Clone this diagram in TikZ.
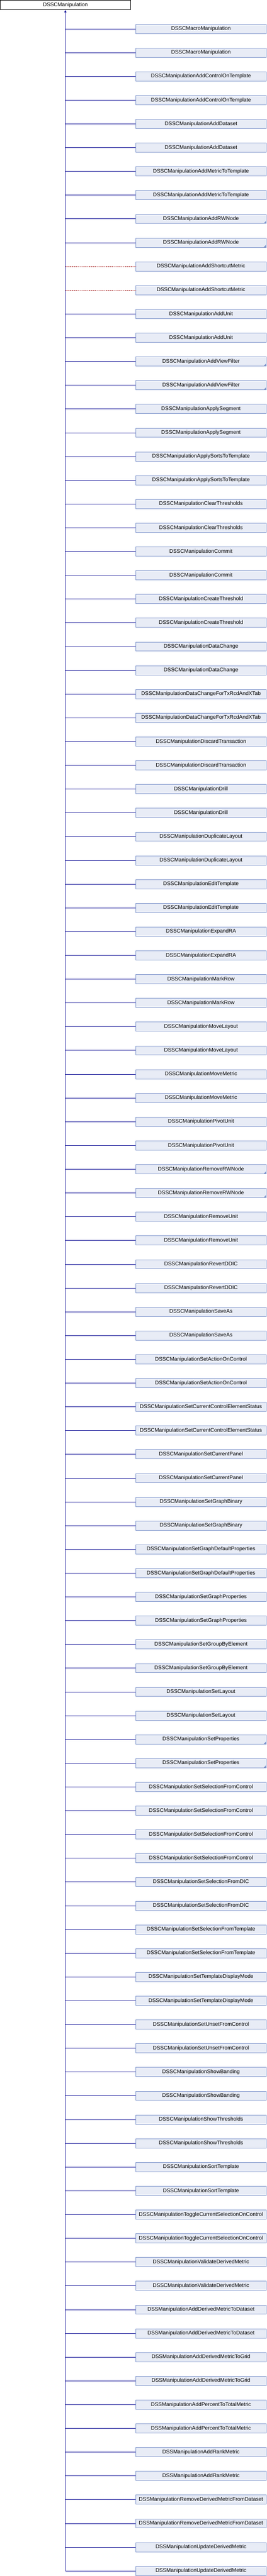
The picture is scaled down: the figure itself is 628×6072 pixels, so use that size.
\documentclass[tikz,border=0pt]{standalone}
\usepackage{fontspec}
\setmainfont{Liberation Sans}
\usetikzlibrary{arrows.meta}
\definecolor{boxfill}{RGB}{232,236,246}
\definecolor{boxline}{RGB}{128,150,204}
\definecolor{edgeblue}{RGB}{16,16,150}
\definecolor{edgered}{RGB}{160,0,0}
\begin{document}
\begin{tikzpicture}[x=1pt,y=1pt,
  every node/.style={font=\fontsize{12.5}{14}\selectfont, text=black, inner sep=0pt},
  rootbox/.style={draw=black, fill=white, line width=1pt, minimum width=307pt, minimum height=22.3pt},
  childbox/.style={draw=boxline, fill=boxfill, line width=1pt, minimum width=307pt, minimum height=21.7pt},
  leaf/.style={},
  more/.style={path picture={\fill[boxline] (path picture bounding box.south east) -- ++(-6,0) -- ++(6,6) -- cycle;}},
  pub/.style={draw=edgeblue, line width=1pt},
  prv/.style={draw=edgered, line width=1pt, dash pattern=on 3pt off 2pt}]
\useasboundingbox (0,0) rectangle (628,-6072);
\node[rootbox] (root) at (154,-11.65) {DSSCManipulation};
\foreach \nm/\ls/\ns [count=\i] in {
DSSCMacroManipulation/pub/leaf,
DSSCMacroManipulation/pub/leaf,
DSSCManipulationAddControlOnTemplate/pub/leaf,
DSSCManipulationAddControlOnTemplate/pub/leaf,
DSSCManipulationAddDataset/pub/leaf,
DSSCManipulationAddDataset/pub/leaf,
DSSCManipulationAddMetricToTemplate/pub/leaf,
DSSCManipulationAddMetricToTemplate/pub/leaf,
DSSCManipulationAddRWNode/pub/more,
DSSCManipulationAddRWNode/pub/more,
DSSCManipulationAddShortcutMetric/prv/leaf,
DSSCManipulationAddShortcutMetric/prv/leaf,
DSSCManipulationAddUnit/pub/leaf,
DSSCManipulationAddUnit/pub/leaf,
DSSCManipulationAddViewFilter/pub/more,
DSSCManipulationAddViewFilter/pub/more,
DSSCManipulationApplySegment/pub/leaf,
DSSCManipulationApplySegment/pub/leaf,
DSSCManipulationApplySortsToTemplate/pub/leaf,
DSSCManipulationApplySortsToTemplate/pub/leaf,
DSSCManipulationClearThresholds/pub/leaf,
DSSCManipulationClearThresholds/pub/leaf,
DSSCManipulationCommit/pub/leaf,
DSSCManipulationCommit/pub/leaf,
DSSCManipulationCreateThreshold/pub/leaf,
DSSCManipulationCreateThreshold/pub/leaf,
DSSCManipulationDataChange/pub/leaf,
DSSCManipulationDataChange/pub/leaf,
DSSCManipulationDataChangeForTxRcdAndXTab/pub/leaf,
DSSCManipulationDataChangeForTxRcdAndXTab/pub/leaf,
DSSCManipulationDiscardTransaction/pub/leaf,
DSSCManipulationDiscardTransaction/pub/leaf,
DSSCManipulationDrill/pub/leaf,
DSSCManipulationDrill/pub/leaf,
DSSCManipulationDuplicateLayout/pub/leaf,
DSSCManipulationDuplicateLayout/pub/leaf,
DSSCManipulationEditTemplate/pub/leaf,
DSSCManipulationEditTemplate/pub/leaf,
DSSCManipulationExpandRA/pub/leaf,
DSSCManipulationExpandRA/pub/leaf,
DSSCManipulationMarkRow/pub/leaf,
DSSCManipulationMarkRow/pub/leaf,
DSSCManipulationMoveLayout/pub/leaf,
DSSCManipulationMoveLayout/pub/leaf,
DSSCManipulationMoveMetric/pub/leaf,
DSSCManipulationMoveMetric/pub/leaf,
DSSCManipulationPivotUnit/pub/leaf,
DSSCManipulationPivotUnit/pub/leaf,
DSSCManipulationRemoveRWNode/pub/more,
DSSCManipulationRemoveRWNode/pub/more,
DSSCManipulationRemoveUnit/pub/leaf,
DSSCManipulationRemoveUnit/pub/leaf,
DSSCManipulationRevertDDIC/pub/leaf,
DSSCManipulationRevertDDIC/pub/leaf,
DSSCManipulationSaveAs/pub/leaf,
DSSCManipulationSaveAs/pub/leaf,
DSSCManipulationSetActionOnControl/pub/leaf,
DSSCManipulationSetActionOnControl/pub/leaf,
DSSCManipulationSetCurrentControlElementStatus/pub/leaf,
DSSCManipulationSetCurrentControlElementStatus/pub/leaf,
DSSCManipulationSetCurrentPanel/pub/leaf,
DSSCManipulationSetCurrentPanel/pub/leaf,
DSSCManipulationSetGraphBinary/pub/leaf,
DSSCManipulationSetGraphBinary/pub/leaf,
DSSCManipulationSetGraphDefaultProperties/pub/leaf,
DSSCManipulationSetGraphDefaultProperties/pub/leaf,
DSSCManipulationSetGraphProperties/pub/leaf,
DSSCManipulationSetGraphProperties/pub/leaf,
DSSCManipulationSetGroupByElement/pub/leaf,
DSSCManipulationSetGroupByElement/pub/leaf,
DSSCManipulationSetLayout/pub/leaf,
DSSCManipulationSetLayout/pub/leaf,
DSSCManipulationSetProperties/pub/more,
DSSCManipulationSetProperties/pub/more,
DSSCManipulationSetSelectionFromControl/pub/leaf,
DSSCManipulationSetSelectionFromControl/pub/leaf,
DSSCManipulationSetSelectionFromControl/pub/leaf,
DSSCManipulationSetSelectionFromControl/pub/leaf,
DSSCManipulationSetSelectionFromDIC/pub/leaf,
DSSCManipulationSetSelectionFromDIC/pub/leaf,
DSSCManipulationSetSelectionFromTemplate/pub/leaf,
DSSCManipulationSetSelectionFromTemplate/pub/leaf,
DSSCManipulationSetTemplateDisplayMode/pub/leaf,
DSSCManipulationSetTemplateDisplayMode/pub/leaf,
DSSCManipulationSetUnsetFromControl/pub/leaf,
DSSCManipulationSetUnsetFromControl/pub/leaf,
DSSCManipulationShowBanding/pub/leaf,
DSSCManipulationShowBanding/pub/leaf,
DSSCManipulationShowThresholds/pub/leaf,
DSSCManipulationShowThresholds/pub/leaf,
DSSCManipulationSortTemplate/pub/leaf,
DSSCManipulationSortTemplate/pub/leaf,
DSSCManipulationToggleCurrentSelectionOnControl/pub/leaf,
DSSCManipulationToggleCurrentSelectionOnControl/pub/leaf,
DSSCManipulationValidateDerivedMetric/pub/leaf,
DSSCManipulationValidateDerivedMetric/pub/leaf,
DSSManipulationAddDerivedMetricToDataset/pub/leaf,
DSSManipulationAddDerivedMetricToDataset/pub/leaf,
DSSManipulationAddDerivedMetricToGrid/pub/leaf,
DSSManipulationAddDerivedMetricToGrid/pub/leaf,
DSSManipulationAddPercentToTotalMetric/pub/leaf,
DSSManipulationAddPercentToTotalMetric/pub/leaf,
DSSManipulationAddRankMetric/pub/leaf,
DSSManipulationAddRankMetric/pub/leaf,
DSSManipulationRemoveDerivedMetricFromDataset/pub/leaf,
DSSManipulationRemoveDerivedMetricFromDataset/pub/leaf,
DSSManipulationUpdateDerivedMetric/pub/leaf,
DSSManipulationUpdateDerivedMetric/pub/leaf}{
  \pgfmathsetmacro{\yy}{-(68+56*(\i-1))}
  \node[childbox,\ns] (c\i) at (473.5,\yy) {\nm};
  \coordinate (j\i) at (154,\yy);
  \draw[\ls] (j\i) -- (c\i.west);
}
\draw[pub, -{Triangle[width=5pt,length=6pt]}] (j108) -- (root.south);
\end{tikzpicture}
\end{document}
